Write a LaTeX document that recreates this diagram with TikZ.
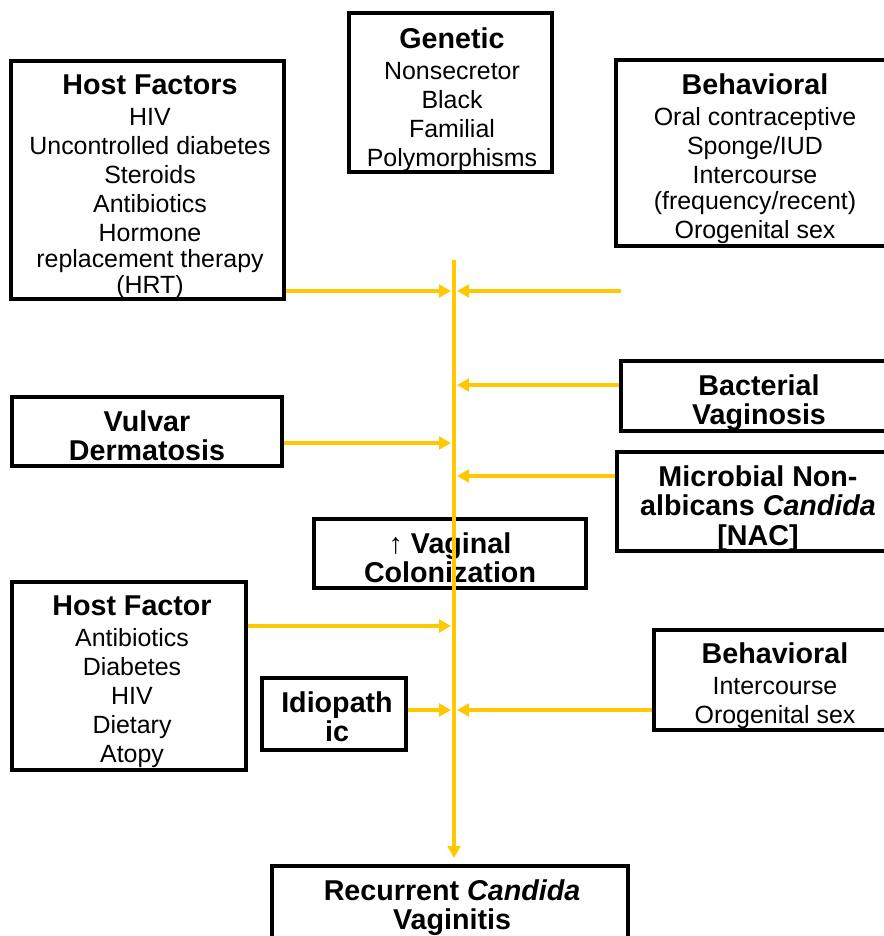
\documentclass[tikz,border=0pt]{standalone}
\usepackage{fontspec}
\setmainfont{Liberation Sans}
\usetikzlibrary{arrows.meta,fit}
\definecolor{gold}{HTML}{FFC800}
\lineskiplimit=-100pt
\newcommand\hd[1]{{\fontsize{21.5pt}{19.5pt}\selectfont\bfseries #1}}
\newcommand\fst{\rule{0pt}{17pt}}
\begin{document}
\begin{tikzpicture}[x=0.75pt,y=-0.75pt,
  box/.style={draw=black,line width=3.4pt,fill=white,inner sep=0pt,outer sep=0pt},
  txt/.style={align=center,inner sep=0pt,anchor=north,font=\fontsize{18.7pt}{19.5pt}\selectfont},
  arr/.style={draw=gold,line width=3pt,-{Triangle[length=9pt,width=9.5pt]},shorten <=1.7pt},
  freearr/.style={draw=gold,line width=3pt,-{Triangle[length=9pt,width=9.5pt]}}]
\useasboundingbox (0,0) rectangle (883,936);
% boxes
\node[box,fit={(11,61) (284,299)}] (hf) {};
\node[box,fit={(349,13) (552,172)}] (gen) {};
\node[box,fit={(616,60) (894,246)}] (beh1) {};
\node[box,fit={(621,361) (897,431)}] (bv) {};
\node[box,fit={(12,397) (282,466)}] (vd) {};
\node[box,fit={(617,452) (901,551)}] (mic) {};
\node[box,fit={(314,519) (586,588)}] (vc) {};
\node[box,fit={(12,582) (246,770)}] (hf2) {};
\node[box,fit={(262,678) (406,750)}] (idio) {};
\node[box,fit={(654,630) (894,730)}] (beh2) {};
\node[box,fit={(272,866) (628,960)}] (rcv) {};
% texts
\node[txt] (hft) at (150,71.3) {\fst\hd{Host Factors}\\[3.75pt]HIV\\[2.25pt]Uncontrolled diabetes\\[2.25pt]Steroids\\[2.25pt]Antibiotics\\[2.25pt]Hormone\\replacement therapy\\(HRT)};
\node[txt] (gent) at (452,25.3) {\fst\hd{Genetic}\\[3.75pt]Nonsecretor\\[2.25pt]Black\\[2.25pt]Familial\\[2.25pt]Polymorphisms};
\node[txt] (beh1t) at (755,71.3) {\fst\hd{Behavioral}\\[3.75pt]Oral contraceptive\\[2.25pt]Sponge/IUD\\[2.25pt]Intercourse\\(frequency/recent)\\[2.25pt]Orogenital sex};
\node[txt] (bvt) at (759,372.3) {\fst\hd{Bacterial}\\[2.6pt]\hd{Vaginosis}};
\node[txt] (vdt) at (147,408.3) {\fst\hd{Vulvar}\\[2.6pt]\hd{Dermatosis}};
\node[txt] (mict) at (758,463.3) {\fst\hd{Microbial Non-}\\[2.6pt]\hd{albicans \textit{Candida}}\\[2.6pt]\hd{[NAC]}};
\node[txt] (vct) at (450,530.3) {\fst\hd{{\mdseries ↑} Vaginal}\\[2.6pt]\hd{Colonization}};
\node[txt] (hf2t) at (132,592.3) {\fst\hd{Host Factor}\\[3.75pt]Antibiotics\\[2.25pt]Diabetes\\[2.25pt]HIV\\[2.25pt]Dietary\\[2.25pt]Atopy};
\node[txt] (idiot) at (337,689.3) {\fst\hd{Idiopath}\\[2.6pt]\hd{ic}};
\node[txt] (beh2t) at (775,640.3) {\fst\hd{Behavioral}\\[3.75pt]Intercourse\\[2.25pt]Orogenital sex};
\node[txt] (rcvt) at (452,877.3) {\fst\hd{Recurrent \textit{Candida}}\\[2.6pt]\hd{Vaginitis}};
% connector points
\coordinate (vtop) at (454,260);
\coordinate (L1) at (451,291);
\coordinate (R1) at (457,291);
\coordinate (b1s) at (621,291);
\coordinate (R2) at (457,385);
\coordinate (L2) at (451,443);
\coordinate (R3) at (457,476);
\coordinate (L3) at (451,626);
\coordinate (L4) at (451,710);
\coordinate (R4) at (457,710);
% arrows
\draw[arr] (hf.east |- L1) -- (L1);
\draw[freearr] (b1s) -- (R1);
\draw[arr] (bv.west |- R2) -- (R2);
\draw[arr] (vd.east |- L2) -- (L2);
\draw[arr] (mic.west |- R3) -- (R3);
\draw[arr] (hf2.east |- L3) -- (L3);
\draw[arr] (idio.east |- L4) -- (L4);
\draw[arr] (beh2.west |- R4) -- (R4);
\draw[freearr,shorten >=6pt] (vtop) -- (vtop |- rcv.north);
\end{tikzpicture}
\end{document}
